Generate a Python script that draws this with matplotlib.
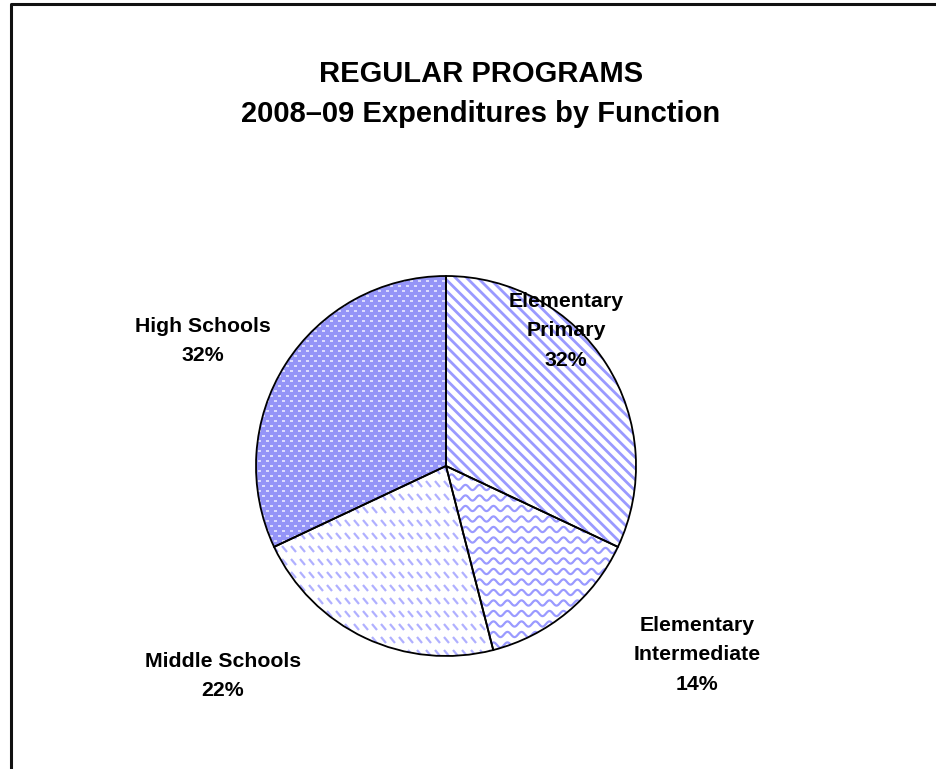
import numpy as np
import matplotlib
matplotlib.use("Agg")
import matplotlib.pyplot as plt
from matplotlib.patches import Wedge
from matplotlib.collections import LineCollection

plt.rcParams['font.family'] = ['Liberation Sans', 'DejaVu Sans']
plt.rcParams['hatch.linewidth'] = 2.0

# Data
categories = ["Elementary\nPrimary", "Elementary\nIntermediate", "Middle Schools", "High Schools"]
shares = [32, 14, 22, 32]

title = "REGULAR PROGRAMS\n2008\u201309 Expenditures by Function"

W, H = 936, 769
fig = plt.figure(figsize=(W / 100, H / 100), dpi=100)
ax = fig.add_axes([0, 0, 1, 1])

# outer frame (left and top edges)
ax.plot([11, 11, W], [0, H - 4, H - 4], color='#111111', lw=2.2, solid_capstyle='butt')

center = (446, H - 466)
radius = 190
blue = '#9a9aff'

wedges, _ = ax.pie(shares, startangle=90, counterclock=False, center=center,
                   radius=radius, frame=True,
                   wedgeprops=dict(linewidth=0, edgecolor='none'))
ax.set_xlim(0, W)
ax.set_ylim(0, H)
ax.set_aspect('equal')
ax.axis('off')

xmin, xmax = center[0] - radius - 10, center[0] + radius + 10
ymin, ymax = center[1] - radius - 10, center[1] + radius + 10

# Elementary Primary: diagonal stripes
w = wedges[0]
w.set_facecolor('white')
w.set_hatch('\\\\\\')
w.set_edgecolor(blue)

# Elementary Intermediate: wavy lines
w = wedges[1]
w.set_facecolor('white')
xs = np.linspace(xmin, xmax, 900)
segs = []
for y0 in np.arange(ymin, ymax, 10.5):
    segs.append(np.column_stack([xs, y0 + 2.6 * np.sin(2 * np.pi * xs / 14.0)]))
lc = LineCollection(segs, colors=blue, linewidths=1.6, zorder=3)
ax.add_collection(lc)
lc.set_clip_path(w)

# Middle Schools: rows of short diagonal dashes
w = wedges[2]
w.set_facecolor('white')
segs = []
for y0 in np.arange(ymin, ymax, 13.0):
    for x0 in np.arange(xmin, xmax, 9.0):
        segs.append([(x0, y0 + 3.0), (x0 + 5, y0 - 3.0)])
lc = LineCollection(segs, colors='#b0b0ff', linewidths=1.6, zorder=3)
ax.add_collection(lc)
lc.set_clip_path(w)

# High Schools: solid blue with small white dashes
w = wedges[3]
w.set_facecolor('#9494f7')
segs = []
for i, y0 in enumerate(np.arange(ymin, ymax, 5.0)):
    off = 0 if i % 2 == 0 else 4.0
    for x0 in np.arange(xmin + off, xmax, 8.0):
        segs.append([(x0, y0), (x0 + 3, y0)])
lc = LineCollection(segs, colors='#e4e4ff', linewidths=1.3, zorder=3)
ax.add_collection(lc)
lc.set_clip_path(w)

# black outlines on top of the fills
for wd in wedges:
    ax.add_patch(Wedge(center, radius, wd.theta1, wd.theta2,
                       facecolor='none', edgecolor='black', lw=1.3, zorder=5))

# Labels
label_pos = [(566, H - 331), (697, H - 655), (223, H - 676), (203, H - 341)]
for name, val, (lx, ly) in zip(categories, shares, label_pos):
    ax.text(lx, ly, f"{name}\n{val}%", ha='center', va='center', fontsize=15.3,
            fontweight='bold', linespacing=1.7)

ax.text(481, H - 94, title, ha='center', va='center', fontsize=21,
        fontweight='bold', linespacing=1.5)

fig.savefig("out.png", dpi=100)
